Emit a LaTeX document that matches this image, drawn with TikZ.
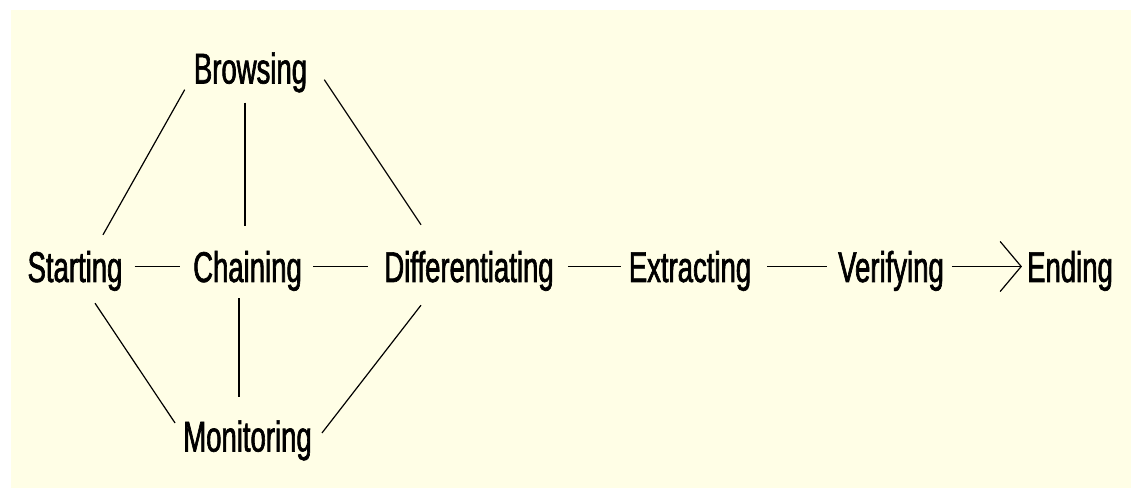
\documentclass[tikz,border=0pt]{standalone}
\usepackage{fontspec}
\setmainfont{Liberation Sans}[FakeStretch=0.64,FakeBold=1.5]
\usetikzlibrary{arrows.meta,calc}
\definecolor{paper}{RGB}{255,254,230}
\begin{document}
\begin{tikzpicture}[x=1pt,y=1pt,
  stage/.style={inner sep=0pt,text height=31pt,text depth=0pt,
    font=\fontsize{43}{50}\selectfont},
  link/.style={line width=1.2pt,black}]
% page and paper
\fill[white] (0,0) rectangle (1131,490);
\fill[paper] (11,2) rectangle (1131,480);
\useasboundingbox (0,0) rectangle (1131,490);

% stages
\node[stage] (s) at (75,223.5)   {Starting};
\node[stage] (c) at (247.5,223.5) {Chaining};
\node[stage] (d) at (469,223.5)  {Differentiating};
\node[stage] (e) at (690,223.5)  {Extracting};
\node[stage] (v) at (891,223.5)  {Verifying};
\node[stage] (n) at (1070,223.5) {Ending};
\node[stage] (b) at (250.5,422)  {Browsing};
\node[stage] (m) at (247.5,54)   {Monitoring};

% main line
\draw[link,shorten <=12pt,shorten >=13pt] (s.east) -- (c.west);
\draw[link,shorten <=11pt,shorten >=16pt] (c.east) -- (d.west);
\draw[link,shorten <=14pt,shorten >=8pt]  (d.east) -- (e.west);
\draw[link,shorten <=16pt,shorten >=11pt] (e.east) -- (v.west);
\draw[link,shorten <=8pt,shorten >=5pt,-{Straight Barb[length=21pt,width=50pt,line width=1.2pt]}]
  (v.east) -- (n.west);

% branches above and below
\draw[link] ($(s.north)+(28,16)$) -- ($(b.south west)+(-9,-6)$);
\draw[link] ($(b.south)+(-5.5,-19)$) -- ($(c.north)+(-2.5,25)$);
\draw[link] ($(b.south east)+(17,4)$) -- ($(d.north)+(-48,26)$);
\draw[link] ($(s.south)+(20,-21)$) -- ($(m.west)+(-8,13)$);
\draw[link] ($(c.south)+(-8.5,-16)$) -- ($(m.north)+(-8.5,23)$);
\draw[link] ($(m.east)+(10,3)$) -- ($(d.south)+(-48,-23)$);
\end{tikzpicture}
\end{document}
